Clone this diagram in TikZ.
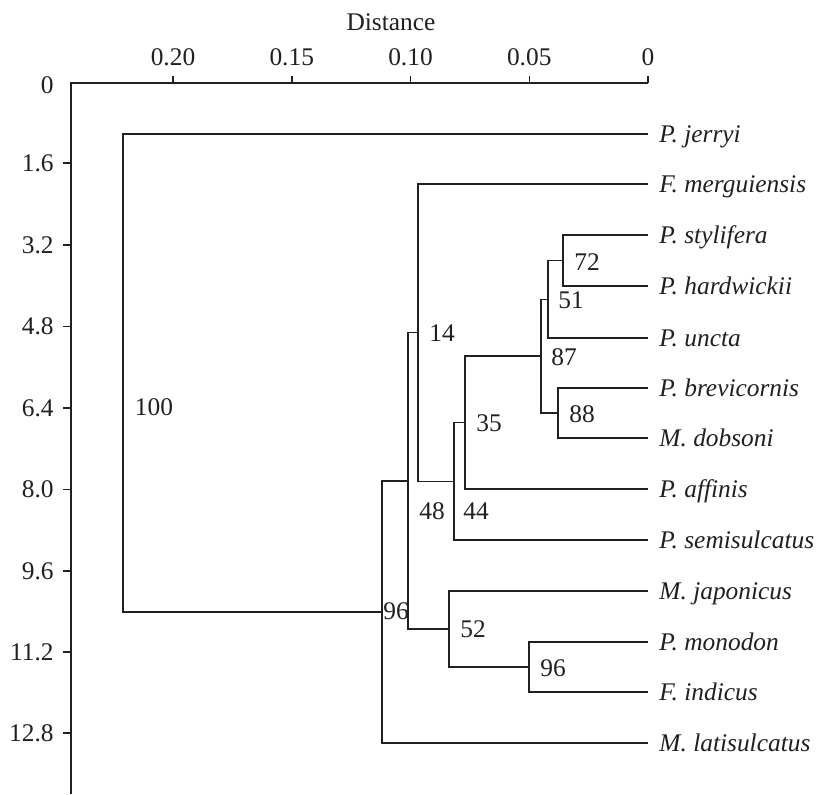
\documentclass[tikz,border=0pt]{standalone}
\usepackage{fontspec}
\setmainfont{Liberation Serif}
\definecolor{ink}{RGB}{35,31,32}
\begin{document}
\begin{tikzpicture}[x=0.5pt,y=-0.5pt,
  every node/.style={inner sep=0pt,text=ink,font=\fontsize{12.7}{15}\selectfont},
  branch/.style={draw=ink,line width=0.75pt,line join=miter},
  axisline/.style={draw=ink,line width=0.75pt},
  leaflab/.style={anchor=base west,font=\fontsize{12.7}{15}\selectfont\itshape},
  boot/.style={anchor=center},
  ylab/.style={anchor=east},
  xlab/.style={anchor=center}]
\useasboundingbox (0,0) rectangle (819,794);

% axes
\draw[axisline] (71,794) -- (71,83) -- (648,83);
\foreach \xx/\lab in {173/0.20,291.75/0.15,410.5/0.10,529.25/0.05,648/0}{
  \draw[axisline] (\xx,83) -- (\xx,76);
  \node[xlab] (xt\lab) at (\xx,57) {\lab};
}
\node[anchor=center] (xtitle) at (391,22.5) {Distance};
\node[ylab] (y0) at (54,85) {0};
\foreach \yy/\lab in {163/1.6,245/3.2,326.5/4.8,408/6.4,489.5/8.0,571/9.6,652/11.2,733/12.8}{
  \draw[axisline] (71,\yy) -- (63,\yy);
  \node[ylab] (yt\lab) at (54,\yy) {\lab};
}

% leaves: tip coordinate and species name
\foreach \nm/\yy/\txt in {jer/134/P. jerryi, mer/184/F. merguiensis, sty/235/P. stylifera,
  har/286/P. hardwickii, unc/338/P. uncta, bre/388/P. brevicornis, dob/438/M. dobsoni,
  aff/489/P. affinis, sem/540/P. semisulcatus, jap/591/M. japonicus, mon/642/P. monodon,
  ind/692/F. indicus, lat/743/M. latisulcatus}{
  \coordinate (\nm) at (648,\yy);
  \node[leaflab] (\nm-name) at (659,\yy+8) {\txt};
}

% internal nodes
\coordinate (n72) at (563,260.5);
\coordinate (n51) at (548,299.25);
\coordinate (n88) at (558,413);
\coordinate (n87) at (541,356.1);
\coordinate (n35) at (465,422.6);
\coordinate (n44) at (454,481.3);
\coordinate (n14) at (418,332.6);
\coordinate (n96b) at (529,667);
\coordinate (n52) at (449,629);
\coordinate (n48) at (408,480.8);
\coordinate (n96) at (382,611.9);
\coordinate (root) at (123,373);

% branches
\draw[branch] (sty) -| (n72) |- (har);
\draw[branch] (n72) -| (n51) |- (unc);
\draw[branch] (bre) -| (n88) |- (dob);
\draw[branch] (n51) -| (n87) |- (n88);
\draw[branch] (n87) -| (n35) |- (aff);
\draw[branch] (n35) -| (n44) |- (sem);
\draw[branch] (mer) -| (n14) |- (n44);
\draw[branch] (mon) -| (n96b) |- (ind);
\draw[branch] (jap) -| (n52) |- (n96b);
\draw[branch] (n14) -| (n48) |- (n52);
\draw[branch] (n48) -| (n96) |- (lat);
\draw[branch] (jer) -| (root) |- (n96);

% bootstrap values
\node[boot] (b100) at (154,407) {100};
\node[boot] (b14) at (442,333) {14};
\node[boot] (b72) at (587,262) {72};
\node[boot] (b51) at (571,300) {51};
\node[boot] (b87) at (564,357) {87};
\node[boot] (b88) at (582,414) {88};
\node[boot] (b35) at (489,423) {35};
\node[boot] (b48) at (432,511) {48};
\node[boot] (b44) at (476,511) {44};
\node[boot] (b96) at (396,611) {96};
\node[boot] (b52) at (473,629) {52};
\node[boot] (b96b) at (553,668) {96};
\end{tikzpicture}
\end{document}
